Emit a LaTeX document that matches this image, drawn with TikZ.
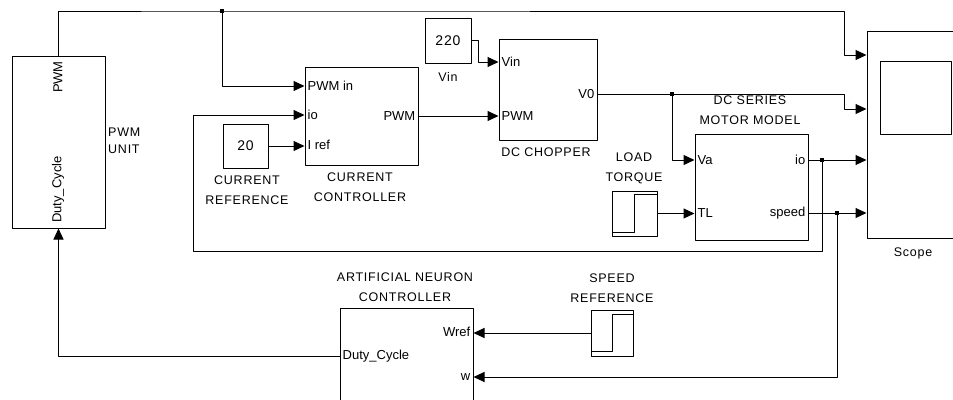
\documentclass[tikz,border=0pt]{standalone}
\usepackage{fontspec}
\setmainfont{Liberation Sans}
\newfontfamily\lblfont[LetterSpace=6]{Liberation Sans}
\usetikzlibrary{arrows.meta}

\tikzset{
  blk/.style={draw, rectangle, inner sep=0pt, line width=1pt},
  wire/.style={line width=1pt},
  sig/.style={wire, -{Triangle[length=11pt,width=10pt]}},
  port/.style={font=\fontsize{13}{15}\selectfont, inner xsep=3pt, inner ysep=0pt},
  lbl/.style={font=\lblfont\fontsize{12.5}{20}\selectfont, align=center, inner sep=0pt},
  cst/.style={font=\lblfont\fontsize{14}{16}\selectfont},
  dot/.style={rectangle, fill, inner sep=0pt, minimum size=3.5pt},
}

\begin{document}
\begin{tikzpicture}[x=1pt, y=-1pt, line join=round]
  \clip (0,0) rectangle (953,399);

  % blocks
  \node[blk, minimum width=93pt, minimum height=172pt] (pwmu) at (58.5,142) {};
  \node[blk, minimum width=113pt, minimum height=98pt] (cc) at (361.5,116) {};
  \node[blk, minimum width=45pt, minimum height=44pt, cst] (iref) at (245.5,146) {20};
  \node[blk, minimum width=46pt, minimum height=45pt, cst] (vin) at (448,40.5) {220};
  \node[blk, minimum width=98pt, minimum height=101pt] (chop) at (548,89.5) {};
  \node[blk, minimum width=113pt, minimum height=106pt] (motor) at (751.5,187) {};
  \node[blk, minimum width=45pt, minimum height=45pt] (load) at (634.5,213.5) {};
  \node[blk, minimum width=133pt, minimum height=207pt] (scope) at (933.5,134.5) {};
  \node[blk, minimum width=71pt, minimum height=73pt] (screen) at (915.5,97.5) {};
  \node[blk, minimum width=133pt, minimum height=122pt] (ann) at (406.5,369) {};
  \node[blk, minimum width=42pt, minimum height=46pt] (sref) at (612,333) {};

  % step icons
  \draw[wire] (612,232) -- (634,232) -- (634,194) -- (657,194);
  \draw[wire] (591,351) -- (612,351) -- (612,314) -- (633,314);

  % block labels
  \node[lbl, anchor=west, font=\lblfont\fontsize{12.5}{17}\selectfont, align=left] (pwmu-l) at (108,140.5) {PWM\\UNIT};
  \node[lbl] (iref-l) at (247,190.5) {CURRENT\\REFERENCE};
  \node[lbl] (cc-l) at (360,187.5) {CURRENT\\CONTROLLER};
  \node[lbl] (vin-l) at (448,76.5) {Vin};
  \node[lbl] (chop-l) at (546,152.5) {DC CHOPPER};
  \node[lbl] (motor-l) at (750,110.5) {DC SERIES\\MOTOR MODEL};
  \node[lbl] (load-l) at (634,168.5) {LOAD\\TORQUE};
  \node[lbl] (scope-l) at (913,253) {Scope};
  \node[lbl] (ann-l) at (405,287) {ARTIFICIAL NEURON\\CONTROLLER};
  \node[lbl] (sref-l) at (612,288) {SPEED\\REFERENCE};

  % ports
  \node[port, rotate=90, anchor=east] (pwmu-pwm) at (58,58) {PWM};
  \node[port, rotate=90, anchor=west] (pwmu-dc) at (58,226) {Duty\_Cycle};
  \node[port, anchor=west] (cc-pwmin) at (cc.west |- {(0,86)}) {PWM in};
  \node[port, anchor=west] (cc-io) at (cc.west |- {(0,115)}) {io};
  \node[port, anchor=west] (cc-iref) at (cc.west |- {(0,145)}) {I ref};
  \node[port, anchor=east] (cc-pwm) at (cc.east |- {(0,116)}) {PWM};
  \node[port, anchor=west] (chop-vin) at (chop.west |- {(0,62)}) {Vin};
  \node[port, anchor=west] (chop-pwm) at (chop.west |- {(0,116)}) {PWM};
  \node[port, anchor=east] (chop-v0) at (chop.east |- {(0,94)}) {V0};
  \node[port, anchor=west] (motor-va) at (motor.west |- {(0,160)}) {Va};
  \node[port, anchor=west] (motor-tl) at (motor.west |- {(0,213)}) {TL};
  \node[port, anchor=east] (motor-io) at (motor.east |- {(0,160)}) {io};
  \node[port, anchor=east] (motor-sp) at (motor.east |- {(0,213)}) {speed};
  \node[port, anchor=east] (ann-wref) at (ann.east |- {(0,332)}) {Wref};
  \node[port, anchor=east] (ann-w) at (ann.east |- {(0,377)}) {w};
  \node[port, anchor=west] (ann-dc) at (ann.west |- {(0,356)}) {Duty\_Cycle};

  % junctions
  \node[dot] (j1) at (222,11) {};
  \node[dot] (j2) at (672,94) {};
  \node[dot] (j3) at (822,160) {};
  \node[dot] (j4) at (837,213) {};

  % signals
  \draw[sig] (pwmu.north) |- (j1.center) -- (844,11) |- (scope.west |- {(0,55)});
  \draw[sig] (j1.center) |- (cc.west |- cc-pwmin);
  \draw[sig] (iref.east) -- (cc.west |- iref.east);
  \draw[sig] (cc.east |- cc-pwm) -- (chop.west |- cc-pwm);
  \draw[sig] (vin.east) -| (478,62) -- (chop.west |- chop-vin);
  \draw[wire] (chop.east |- chop-v0) -- (j2.center);
  \draw[sig] (j2.center) -- (844,94) |- (scope.west |- {(0,109)});
  \draw[sig] (j2.center) |- (motor.west |- motor-va);
  \draw[sig] (load.east) -- (motor.west |- load.east);
  \draw[sig] (motor.east |- motor-io) -- (scope.west |- motor-io);
  \draw[sig] (j3.center) |- (193,251) |- (cc.west |- cc-io);
  \draw[sig] (motor.east |- motor-sp) -- (scope.west |- motor-sp);
  \draw[sig] (j4.center) |- (ann.east |- ann-w);
  \draw[sig] (sref.west) -- (ann.east |- sref.west);
  \draw[sig] (ann.west |- ann-dc) -| (pwmu.south);
\end{tikzpicture}
\end{document}
